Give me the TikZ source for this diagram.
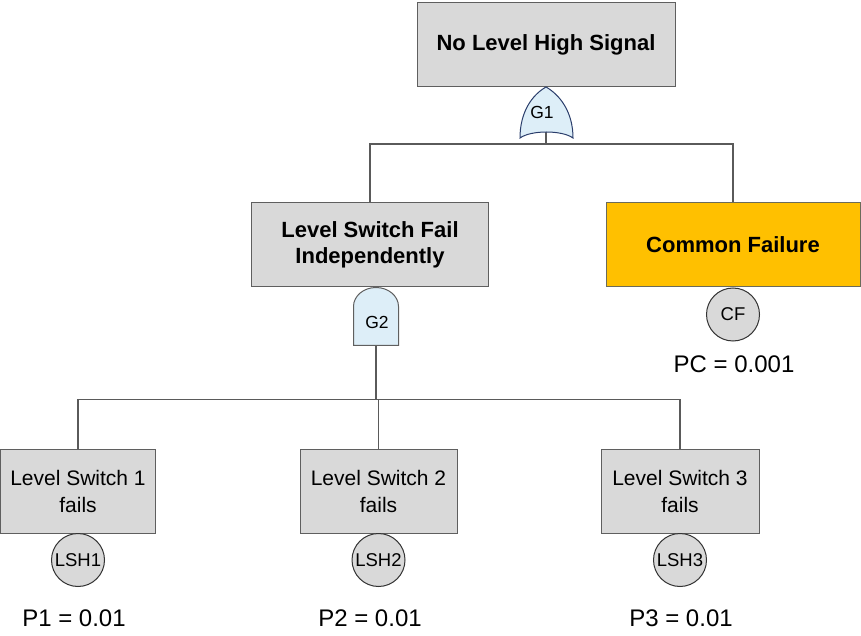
\documentclass[tikz,border=0pt]{standalone}
\usepackage{fontspec}
\setmainfont{Liberation Sans}
\usepackage{tikz}
\usetikzlibrary{calc, positioning}
\definecolor{boxgray}{HTML}{D9D9D9}
\definecolor{boxline}{HTML}{5F5F5F}
\definecolor{amber}{HTML}{FFC000}
\definecolor{amberline}{HTML}{6B6B5A}
\definecolor{gateblue}{HTML}{DDEEF8}
\definecolor{gatenavy}{HTML}{2A3D6B}
\definecolor{wiregray}{HTML}{5A5A5A}

\begin{document}
\begin{tikzpicture}[x=1pt, y=1pt,
	event/.style={draw=boxline, fill=boxgray, line width=1pt, minimum height=84pt, align=center, font=\bfseries\fontsize{22}{26}\selectfont},
	basicevent/.style={draw=boxline, fill=boxgray, line width=1pt, minimum height=84pt, align=center, font=\fontsize{21}{27}\selectfont},
	basic/.style={circle, draw=black!80, fill=boxgray, line width=1pt, minimum size=53pt, inner sep=0pt, font=\fontsize{18.5}{20}\selectfont},
	prob/.style={font=\fontsize{24}{28}\selectfont},
	gatelabel/.style={font=\fontsize{17.5}{20}\selectfont},
	wire/.style={draw=wiregray, line width=1.2pt}]
	\useasboundingbox (0,0) rectangle (861,635);
	
	\node[event, minimum width=258pt] (top) at (546,590.5) {No Level High Signal};
	\node[event, minimum width=237pt] (lsf) at (370,390) {Level Switch Fail\\Independently};
	\node[event, fill=amber, draw=amberline, minimum width=254pt] (cf) at (733,390) {Common Failure};
	
	\node[basicevent, minimum width=155pt] (ls1) at (78,144) {Level Switch 1\\fails};
	\node[basicevent, minimum width=157pt] (ls2) at (378.5,144) {Level Switch 2\\fails};
	\node[basicevent, minimum width=158pt] (ls3) at (680,144) {Level Switch 3\\fails};
	
	\node[basic] (cfc)  at ($(cf.south)+(0,-27)$)    {CF};
	\node[basic] (lsh1) at ($(ls1.south)+(0,-26.5)$) {LSH1};
	\node[basic] (lsh2) at ($(ls2.south)+(0,-26.5)$) {LSH2};
	\node[basic] (lsh3) at ($(ls3.south)+(0,-26.5)$) {LSH3};
	
	\node[prob] (pc) at (734,271) {PC = 0.001};
	\node[prob] (p1) at (74,17)   {P1 = 0.01};
	\node[prob] (p2) at (370,17)  {P2 = 0.01};
	\node[prob] (p3) at (681,17)  {P3 = 0.01};
	
	\coordinate (G1)   at (top.south);
	\coordinate (g1out) at ($(G1)+(0,-45)$);
	\coordinate (bus1) at ($(g1out)+(0,-12)$);
	\draw[wire] (g1out) -- (bus1);
	\draw[wire] (lsf.north) |- (bus1) -| (cf.north);
	\draw[fill=gateblue, draw=gatenavy, line width=1pt]
		($(G1)+(-26,-51)$) .. controls ($(G1)+(-26,-25)$) and ($(G1)+(-14,-8)$) .. (G1)
		.. controls ($(G1)+(14,-8)$) and ($(G1)+(27,-25)$) .. ($(G1)+(27,-51)$)
		.. controls ($(G1)+(16,-43)$) and ($(G1)+(-15,-43)$) .. ($(G1)+(-26,-51)$) -- cycle;
	\node[gatelabel] (g1) at ($(G1)+(-4,-25)$) {G1};
	
	\coordinate (G2)   at ($(lsf.south)+(6,0)$);
	\coordinate (g2out) at ($(G2)+(0,-58)$);
	\coordinate (bus2) at ($(g2out)+(0,-54)$);
	\draw[wire] (g2out) -- (bus2);
	\draw[wire] (ls1.north) |- (bus2) -| (ls3.north);
	\draw[wire] (ls2.north) -- (ls2.north |- bus2);
	\draw[fill=gateblue, draw=boxline, line width=1pt]
		($(G2)+(-22.5,-58)$) -- ($(G2)+(-22.5,-19)$)
		arc[start angle=180, end angle=0, x radius=22.5, y radius=19]
		-- ($(G2)+(22.5,-58)$) -- cycle;
	\node[gatelabel] (g2) at ($(G2)+(1,-35)$) {G2};
\end{tikzpicture}
\end{document}
